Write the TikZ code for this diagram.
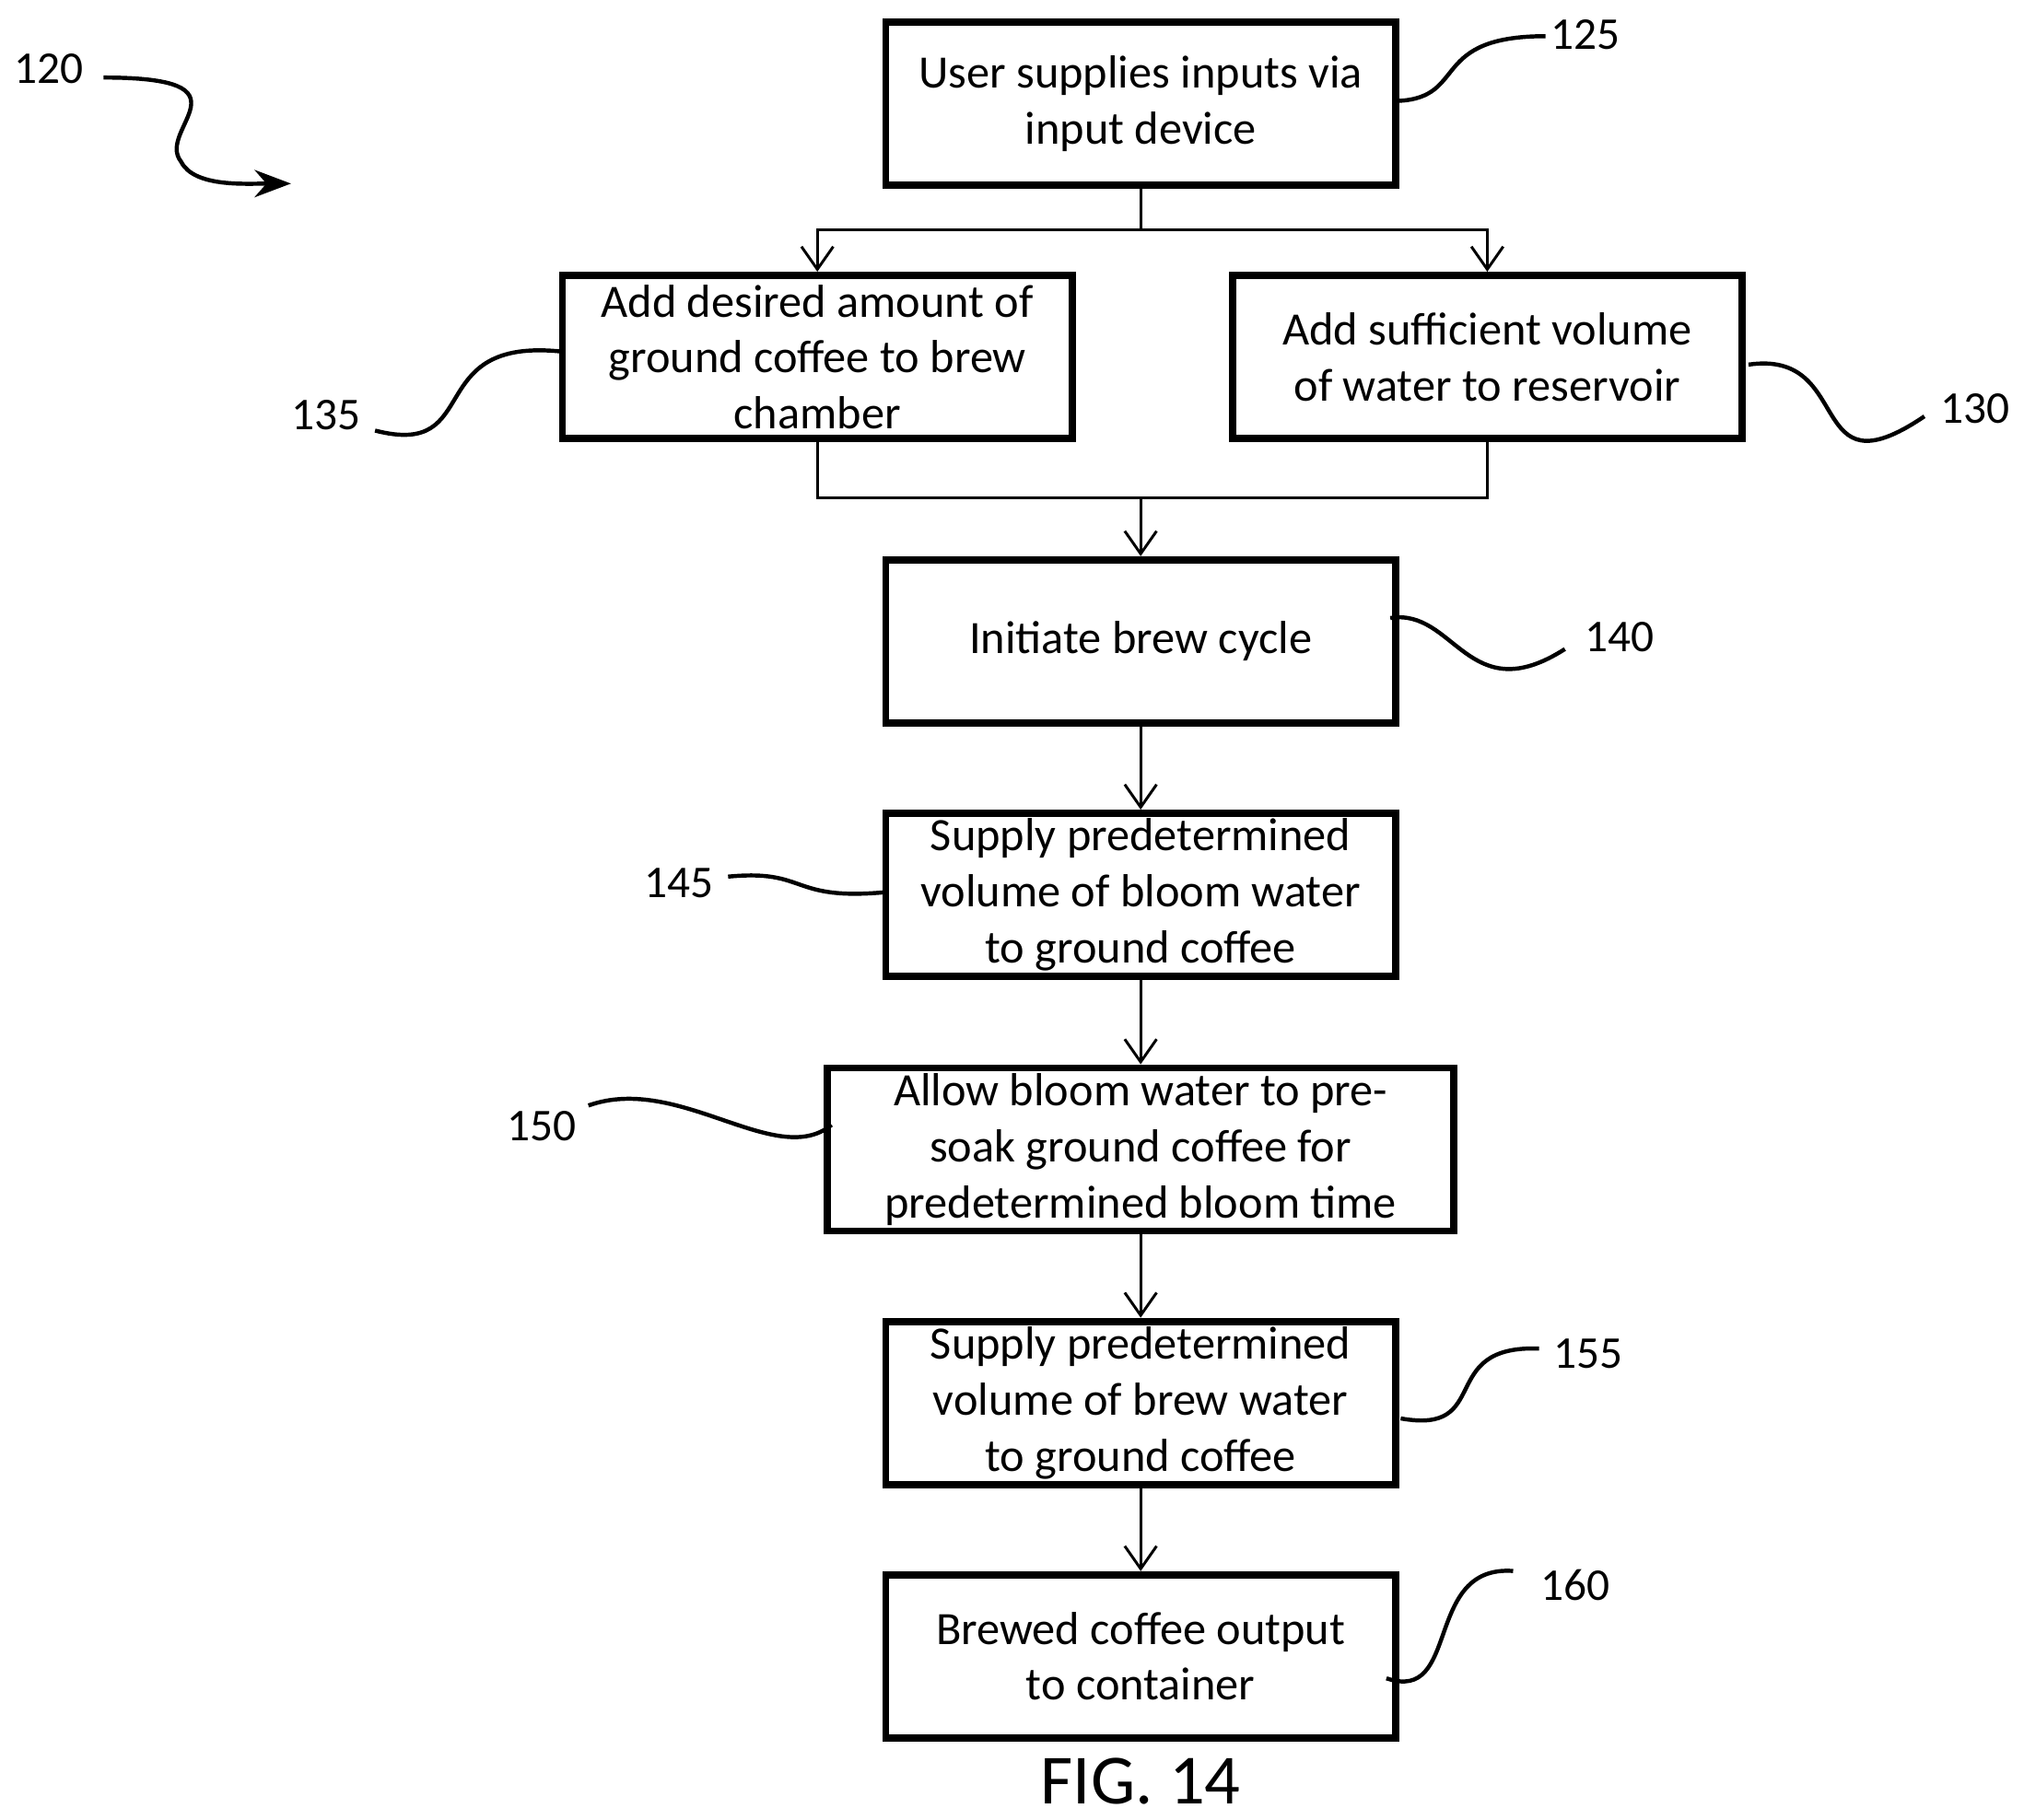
\documentclass[tikz,border=0pt]{standalone}
\usepackage{fontspec}
\setmainfont{Carlito}
\usetikzlibrary{arrows.meta}
\tikzset{
  stage/.style={draw, line width=1.6pt, minimum width=3.94cm, minimum height=1.26cm,
    align=center, inner sep=1pt, font=\fontsize{10.2}{12.3}\selectfont},
  link/.style={-{Straight Barb[length=5pt,width=7pt]}, line width=0.6pt},
  lead/.style={line width=0.9pt},
  num/.style={font=\fontsize{10}{12}\selectfont}
}
\begin{document}
\begin{tikzpicture}[x=0.01cm, y=-0.01cm]
    \useasboundingbox (0,0) rectangle (1565,1407);

    % Steps
    \node[stage] (n125) at (882,80) {User supplies inputs via\\input device};
    \node[stage] (n135) at (632,276) {Add desired amount of\\ground coffee to brew\\chamber};
    \node[stage] (n130) at (1150,276) {Add sufficient volume\\of water to reservoir};
    \node[stage] (n140) at (882,496) {Initiate brew cycle};
    \node[stage] (n145) at (882,692) {Supply predetermined\\volume of bloom water\\to ground coffee};
    \node[stage, minimum width=4.84cm] (n150) at (882,889) {Allow bloom water to pre-\\soak ground coffee for\\predetermined bloom time};
    \node[stage] (n155) at (882,1085) {Supply predetermined\\volume of brew water\\to ground coffee};
    \node[stage] (n160) at (882,1281) {Brewed coffee output\\to container};
    \node[font=\fontsize{15.5}{18}\selectfont] (fig) at (882,1378) {FIG. 14};

    % Split and merge
    \coordinate (split) at (882,178);
    \coordinate (merge) at (882,385);
    \draw[line width=0.6pt] (n125.south) -- (split);
    \draw[link] (split) -| (n135.north);
    \draw[link] (split) -| (n130.north);
    \draw[line width=0.6pt] (n135.south) |- (merge) -| (n130.south);
    \draw[link] (merge) -- (n140.north);

    % Chain
    \draw[link] (n140) -- (n145);
    \draw[link] (n145) -- (n150);
    \draw[link] (n150) -- (n155);
    \draw[link] (n155) -- (n160);

    % Reference numerals
    \node[num] (l120) at (38,53) {120};
    \node[num] (l125) at (1226,27) {125};
    \node[num] (l135) at (252,321) {135};
    \node[num] (l130) at (1527,316) {130};
    \node[num] (l140) at (1252,493) {140};
    \node[num] (l145) at (525,683) {145};
    \node[num] (l150) at (419,871) {150};
    \node[num] (l155) at (1228,1047) {155};
    \node[num] (l160) at (1218,1226) {160};

    \draw[lead, -{Stealth[length=8pt,width=6pt]}] (80,60) .. controls (200,60) and (120,100) .. (140,125) .. controls (150,145) and (190,142) .. (225,142);
    \draw[lead] (1082,78) .. controls (1135,75) and (1105,28) .. (1195,28);
    \draw[lead] (290,333) .. controls (375,355) and (325,260) .. (435,272);
    \draw[lead] (1352,282) .. controls (1435,270) and (1395,385) .. (1488,322);
    \draw[lead] (1075,478) .. controls (1125,470) and (1135,550) .. (1210,502);
    \draw[lead] (563,678) .. controls (625,672) and (610,697) .. (685,690);
    \draw[lead] (455,855) .. controls (525,830) and (600,905) .. (643,870);
    \draw[lead] (1083,1097) .. controls (1155,1110) and (1110,1040) .. (1190,1043);
    \draw[lead] (1072,1298) .. controls (1130,1318) and (1100,1210) .. (1170,1215);
\end{tikzpicture}
\end{document}
